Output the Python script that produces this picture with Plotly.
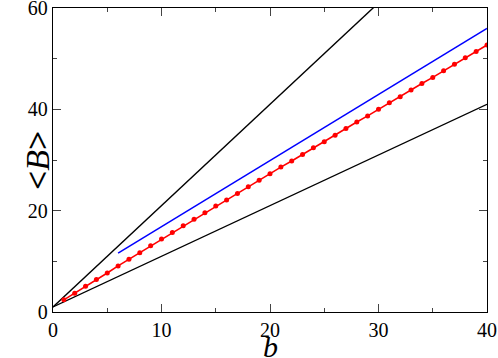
import plotly.graph_objects as go


# ---------------- data ----------------
b_upper = [0, 40]
B_upper = [1, 81]

b_lower = [0, 40]
B_lower = [1, 41]

b_blue = [6, 40]
B_blue = [11.6, 56.0]

b_red = list(range(1, 41))
B_red = [
    2.4, 3.7, 5.1, 6.4, 7.7, 9.1, 10.4, 11.7, 13.1, 14.4,
    15.7, 17.0, 18.3, 19.6, 20.9, 22.1, 23.4, 24.7, 26.0, 27.3,
    28.6, 29.8, 31.1, 32.4, 33.6, 34.9, 36.2, 37.5, 38.7, 40.0,
    41.3, 42.5, 43.8, 45.1, 46.3, 47.6, 48.9, 50.2, 51.4, 52.7,
]

x_ticks = [0, 10, 20, 30, 40]
y_ticks = [0, 20, 40, 60]

SERIF = "'Liberation Serif', 'Times New Roman', serif"


fig = go.Figure()

fig.add_trace(go.Scatter(
    x=b_upper, y=B_upper, mode="lines",
    line=dict(color="black", width=1.4)
))

fig.add_trace(go.Scatter(
    x=b_lower, y=B_lower, mode="lines",
    line=dict(color="black", width=1.4)
))

fig.add_trace(go.Scatter(
    x=b_blue, y=B_blue, mode="lines",
    line=dict(color="#0000ff", width=1.5)
))

fig.add_trace(go.Scatter(
    x=b_red, y=B_red, mode="lines+markers",
    line=dict(color="#ff0000", width=1.6),
    marker=dict(color="#ff0000", size=5)
))


fig.update_layout(
    width=498,
    height=358,
    showlegend=False,
    paper_bgcolor="white",
    plot_bgcolor="white",
    margin=dict(l=53, r=11, t=8, b=46),
    font=dict(family=SERIF, size=20, color="black"),
)

fig.update_xaxes(
    range=[0, 40],
    tickvals=x_ticks,
    tickfont=dict(family=SERIF, size=20, color="black"),
    ticks="inside",
    ticklen=8,
    tickwidth=1,
    tickcolor="#444",
    minor=dict(ticks="inside", ticklen=4, dtick=5, tickcolor="#444", tickwidth=1),
    showline=True,
    linecolor="black",
    linewidth=1.3,
    mirror="allticks",
    showgrid=False,
    zeroline=False,
    automargin=False,
    ticklabeloverflow="allow",
)

fig.update_yaxes(
    range=[0, 60],
    tickvals=y_ticks,
    tickfont=dict(family=SERIF, size=20, color="black"),
    ticks="inside",
    ticklen=8,
    tickwidth=1,
    tickcolor="#444",
    minor=dict(ticks="inside", ticklen=4, dtick=10, tickcolor="#444", tickwidth=1),
    showline=True,
    linecolor="black",
    linewidth=1.3,
    mirror="allticks",
    showgrid=False,
    zeroline=False,
    automargin=False,
    ticklabeloverflow="allow",
)

# axis titles as annotations so they sit where the original has them
fig.add_annotation(
    text="<i>b</i>",
    x=20, xref="x",
    y=0, yref="y",
    yanchor="middle",
    yshift=-34,
    showarrow=False,
    font=dict(family=SERIF, size=30, color="black"),
)

fig.add_annotation(
    text="<b>&lt;</b><i>B</i><b>&gt;</b>",
    x=-0.084, xref="paper",
    y=30, yref="y",
    textangle=-90,
    showarrow=False,
    font=dict(family=SERIF, size=34, color="black"),
)

# page body has an 8px default margin; drop it so the figure sits at 0,0
fig.write_html(
    "out.html",
    config={"displayModeBar": False},
    post_script="document.body.style.margin='0';",
)
